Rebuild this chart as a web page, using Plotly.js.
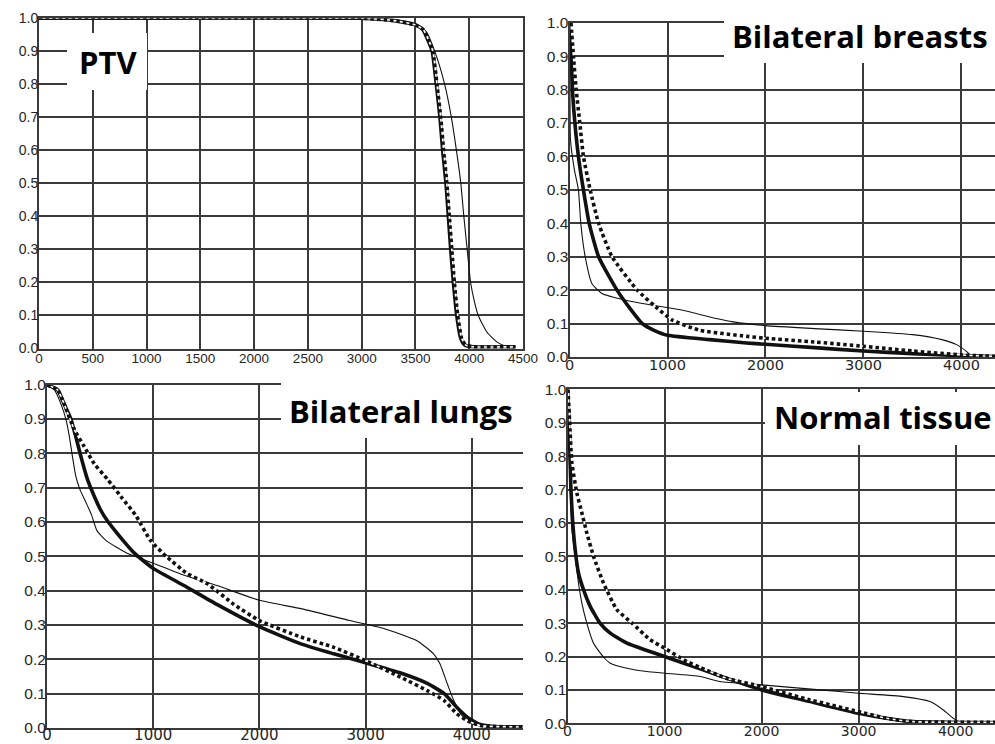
<!DOCTYPE html>
<html>
<head>
<meta charset="utf-8">
<script src="https://cdn.plot.ly/plotly-3.0.1.min.js"></script>
<style>html,body{margin:0;padding:0;background:#fff;}#chart{width:995px;height:744px;}</style>
</head>
<body>
<div id="chart"></div>
<script>
// ---------- Data (dose in cGy, fractional volume) ----------
// PTV
const ptvThinX  = [0, 3000, 3300, 3500, 3600, 3680, 3772, 3834, 3881, 3922, 3950, 3981, 4013, 4050, 4084, 4163, 4256, 4350, 4412];
const ptvThinY  = [1.0, 1.0, 0.993, 0.98, 0.96, 0.9, 0.8, 0.7, 0.6, 0.5, 0.4, 0.3, 0.2, 0.14, 0.1, 0.05, 0.02, 0.005, 0.0];
const ptvThickX = [0, 3000, 3300, 3500, 3570, 3616, 3656, 3694, 3728, 3753, 3784, 3806, 3828, 3853, 3884, 3922, 3960, 4040, 4430];
const ptvThickY = [1.0, 1.0, 0.993, 0.98, 0.965, 0.934, 0.9, 0.8, 0.7, 0.6, 0.5, 0.4, 0.3, 0.2, 0.1, 0.03, 0.01, 0.005, 0.005];
const ptvDotX   = [0, 3000, 3300, 3500, 3575, 3622, 3662, 3700, 3735, 3762, 3792, 3815, 3838, 3862, 3893, 3930, 3968, 4040, 4430];
const ptvDotY   = [1.0, 1.0, 0.993, 0.98, 0.965, 0.934, 0.9, 0.8, 0.7, 0.6, 0.5, 0.4, 0.3, 0.2, 0.1, 0.03, 0.01, 0.005, 0.005];

// Bilateral breasts
const brThinX  = [0, 5, 10, 50, 91, 115, 160, 228, 331, 571, 846, 1155, 1497, 1669, 2000, 2500, 3000, 3500, 3800, 3950, 4050, 4100, 4150, 4342];
const brThinY  = [1.0, 0.95, 0.65, 0.56, 0.5, 0.4, 0.3, 0.22, 0.19, 0.17, 0.155, 0.14, 0.115, 0.105, 0.094, 0.085, 0.077, 0.067, 0.052, 0.037, 0.017, 0.004, 0.0, 0.0];
const brThickX = [0, 18, 30, 55, 91, 142, 201, 297, 485, 605, 743, 863, 1000, 1429, 1806, 2000, 2500, 3000, 3500, 4000, 4342];
const brThickY = [1.0, 0.9, 0.8, 0.7, 0.6, 0.5, 0.4, 0.3, 0.2, 0.15, 0.1, 0.08, 0.065, 0.052, 0.042, 0.038, 0.028, 0.018, 0.01, 0.004, 0.001];
const brDotX   = [15, 40, 68, 105, 142, 211, 297, 434, 691, 880, 1052, 1327, 1806, 2000, 2500, 3000, 3500, 4000, 4342];
const brDotY   = [1.0, 0.9, 0.8, 0.7, 0.6, 0.5, 0.4, 0.3, 0.2, 0.15, 0.11, 0.08, 0.062, 0.056, 0.045, 0.032, 0.018, 0.006, 0.002];

// Bilateral lungs
const luThinX  = [0, 70, 130, 180, 210, 240, 270, 310, 370, 420, 470, 560, 750, 1000, 1290, 1600, 2000, 2400, 2850, 3170, 3480, 3640, 3700, 3770, 3830, 3920, 4020, 4150, 4482];
const luThinY  = [1.0, 0.985, 0.945, 0.897, 0.85, 0.79, 0.735, 0.695, 0.655, 0.62, 0.575, 0.545, 0.51, 0.48, 0.445, 0.415, 0.372, 0.347, 0.313, 0.29, 0.255, 0.216, 0.187, 0.128, 0.08, 0.031, 0.01, 0.004, 0.003];
const luThickX = [0, 100, 160, 225, 270, 320, 380, 445, 505, 565, 690, 820, 1000, 1290, 1600, 2000, 2390, 2700, 3000, 3330, 3580, 3740, 3860, 3960, 4080, 4210, 4482];
const luThickY = [1.0, 0.985, 0.945, 0.9, 0.85, 0.79, 0.725, 0.675, 0.635, 0.605, 0.556, 0.51, 0.465, 0.415, 0.36, 0.295, 0.245, 0.216, 0.19, 0.16, 0.13, 0.1, 0.06, 0.031, 0.01, 0.004, 0.003];
const luDotX   = [0, 100, 160, 256, 350, 444, 569, 694, 834, 973, 1130, 1320, 1510, 1760, 2000, 2390, 2700, 3000, 3330, 3580, 3740, 3860, 3960, 4080, 4482];
const luDotY   = [1.0, 0.985, 0.945, 0.87, 0.82, 0.77, 0.725, 0.675, 0.62, 0.547, 0.498, 0.45, 0.42, 0.36, 0.313, 0.265, 0.235, 0.196, 0.148, 0.109, 0.08, 0.041, 0.021, 0.007, 0.003];

// Normal tissue
const ntThinX  = [0, 8, 21, 45, 79, 113, 148, 199, 268, 366, 440, 612, 818, 1000, 1368, 1570, 2000, 2600, 3000, 3460, 3735, 3872, 3976, 4045, 4405];
const ntThinY  = [1.0, 0.9, 0.76, 0.58, 0.5, 0.42, 0.36, 0.3, 0.24, 0.2, 0.18, 0.165, 0.155, 0.15, 0.14, 0.125, 0.115, 0.1, 0.09, 0.08, 0.065, 0.04, 0.015, 0.002, 0.0];
const ntThickX = [0, 21, 34, 52, 79, 113, 165, 234, 335, 440, 612, 818, 1000, 1368, 1570, 2000, 2500, 3000, 3285, 3560, 4405];
const ntThickY = [1.0, 0.86, 0.71, 0.61, 0.52, 0.45, 0.4, 0.35, 0.3, 0.27, 0.24, 0.218, 0.2, 0.163, 0.142, 0.1, 0.065, 0.03, 0.015, 0.005, 0.002];
const ntDotX   = [5, 21, 45, 96, 148, 199, 268, 371, 509, 665, 852, 1000, 1230, 1368, 1636, 2000, 2500, 3000, 3285, 3560, 4405];
const ntDotY   = [1.0, 0.91, 0.78, 0.69, 0.63, 0.57, 0.5, 0.42, 0.34, 0.3, 0.25, 0.225, 0.185, 0.167, 0.135, 0.11, 0.07, 0.035, 0.015, 0.005, 0.003];

const yTicks = [0, 0.1, 0.2, 0.3, 0.4, 0.5, 0.6, 0.7, 0.8, 0.9, 1.0];
const panelTitles = ["PTV", "Bilateral breasts", "Bilateral lungs", "Normal tissue"];

// ---------- Styling helpers ----------
const W = 995, H = 744;
const px = v => v / W;
const py = v => 1 - v / H;
const INK = '#111';
const GRID = '#3a3a3a';

function trio(xs, ys, axis) {
  const xa = 'x' + (axis === 1 ? '' : axis), ya = 'y' + (axis === 1 ? '' : axis);
  const base = {xaxis: xa, yaxis: ya, mode: 'lines', hoverinfo: 'skip'};
  const sp = {shape: 'spline', smoothing: 0.5};
  return [
    Object.assign({x: xs[0], y: ys[0], line: Object.assign({color: INK, width: 1.1}, sp)}, base),
    Object.assign({x: xs[1], y: ys[1], line: Object.assign({color: INK, width: 3.6}, sp)}, base),
    // dashed series: opaque white gaps under black dashes
    Object.assign({x: xs[2], y: ys[2], line: Object.assign({color: '#fff', width: 1.6}, sp)}, base),
    Object.assign({x: xs[2], y: ys[2], line: Object.assign({color: INK, width: 3.6, dash: '3.5px,3px'}, sp)}, base)
  ];
}

const data = [].concat(
  trio([ptvThinX, ptvThickX, ptvDotX], [ptvThinY, ptvThickY, ptvDotY], 1),
  trio([brThinX, brThickX, brDotX], [brThinY, brThickY, brDotY], 2),
  trio([luThinX, luThickX, luDotX], [luThinY, luThickY, luDotY], 3),
  trio([ntThinX, ntThickX, ntDotX], [ntThinY, ntThickY, ntDotY], 4)
);

const LIB = 'Liberation Sans';
const DJV = 'DejaVu Sans';
function tf(fam, size) { return {family: fam, size: size, color: '#262626'}; }

function xAx(dom, range, dtick, yanchor, f, so) {
  return {domain: dom, range: range, dtick: dtick, tick0: 0, anchor: yanchor,
    showgrid: true, gridcolor: GRID, gridwidth: 2, zeroline: false,
    showline: true, linecolor: GRID, linewidth: 2, mirror: true,
    ticks: '', ticklabelstandoff: so, tickfont: f, fixedrange: true};
}
function yAx(dom, xanchor, mirror, f) {
  return {domain: dom, range: [0, 1], tickvals: yTicks, tickformat: '.1f', anchor: xanchor,
    showgrid: true, gridcolor: GRID, gridwidth: 2, zeroline: false,
    showline: true, linecolor: GRID, linewidth: 2, mirror: mirror,
    ticks: '', ticklabelstandoff: -4, tickfont: f, fixedrange: true};
}

const boxes = [
  [67, 33, 147, 90],
  [724, 0, 995, 63],
  [281, 368, 523, 438],
  [765, 392, 995, 445]
];
const titlePos = [[108, 62], [860, 36], [401, 411], [883, 417]];

const shapes = boxes.map(b => ({type: 'rect', xref: 'paper', yref: 'paper', layer: 'above',
  x0: px(b[0]), x1: px(b[2]), y0: py(b[3]), y1: py(b[1]), fillcolor: '#fff', line: {width: 0}}));

const annotations = panelTitles.map((t, i) => ({
  text: '<b>' + t + '</b>', xref: 'paper', yref: 'paper', showarrow: false,
  x: px(titlePos[i][0]), y: py(titlePos[i][1]), xanchor: 'center', yanchor: 'middle',
  font: {family: 'Open Sans', size: 31, color: '#000'}
}));

const layout = {
  width: W, height: H, margin: {l: 0, r: 0, t: 0, b: 0},
  font: {family: LIB, size: 15, color: '#262626'},
  paper_bgcolor: '#fff', plot_bgcolor: '#fff', showlegend: false,
  xaxis:  xAx([px(39), px(523)], [0, 4500], 500, 'y', tf(LIB, 13.5), -4),
  yaxis:  yAx([py(348.5), py(18.3)], 'x', true, tf(LIB, 14)),
  xaxis2: xAx([px(569.5), 1], [0, 4342], 1000, 'y2', tf(DJV, 14.5), -6),
  yaxis2: yAx([py(357), py(22.7)], 'x2', false, tf(LIB, 15.5)),
  xaxis3: xAx([px(47), px(523)], [0, 4482], 1000, 'y3', tf(DJV, 15), -8),
  yaxis3: yAx([py(728), py(384.7)], 'x3', false, tf(LIB, 15.5)),
  xaxis4: xAx([px(567.5), 1], [0, 4405], 1000, 'y4', tf(DJV, 14), -6),
  yaxis4: yAx([py(723.3), py(389.3)], 'x4', false, tf(LIB, 15.5)),
  shapes: shapes,
  annotations: annotations
};

Plotly.newPlot('chart', data, layout, {staticPlot: true, displayModeBar: false});
</script>
</body>
</html>
